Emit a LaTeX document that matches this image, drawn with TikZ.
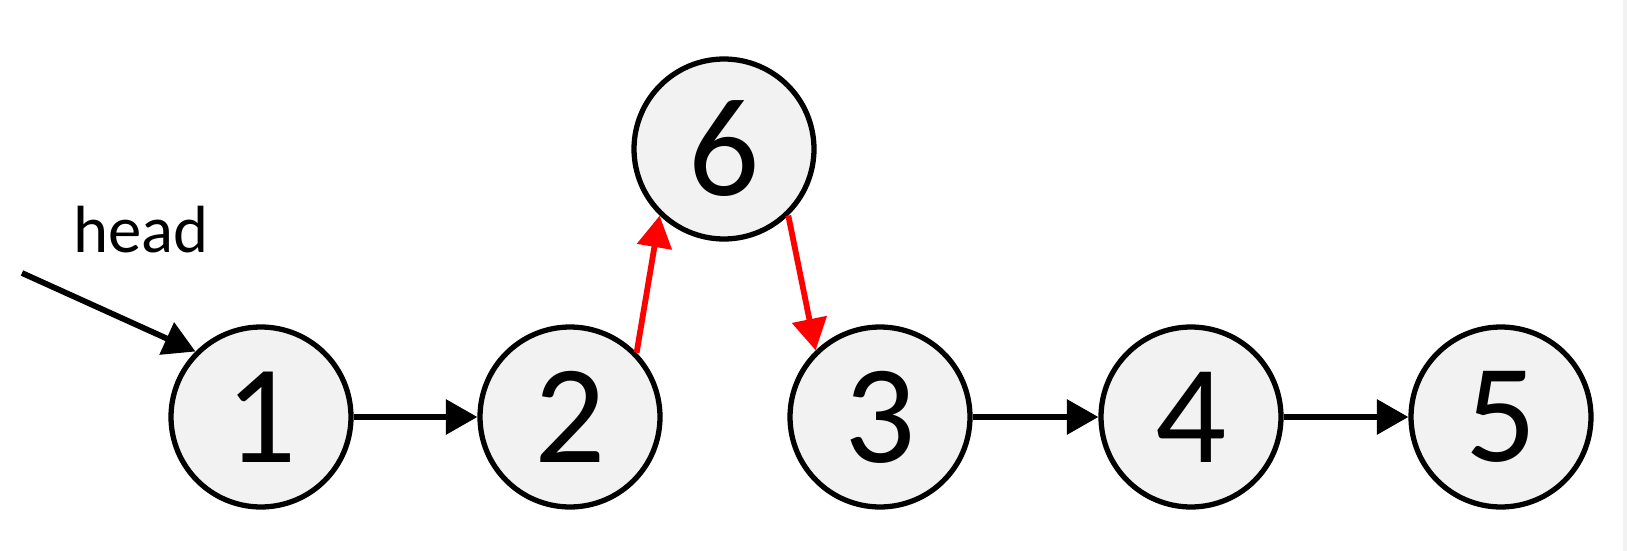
\documentclass[tikz,border=0pt]{standalone}
\usepackage{fontspec}
\setmainfont{Carlito}
\usetikzlibrary{arrows.meta}

\begin{document}
\begin{tikzpicture}[x=0.02cm, y=-0.02cm,
		listnode/.style={circle, draw=black, fill=black!5, line width=3pt, minimum size=3.6cm, inner sep=0pt, font=\fontsize{80}{96}\selectfont},
		nextlink/.style={line width=3.3pt, -{Triangle[length=18pt, width=19.5pt]}},
		newlink/.style={nextlink, color=red}]
		%%%%% START %%%%%
		
		\useasboundingbox (0, 0) rectangle (1627, 551);
		\fill[black!5] (1623, 0) rectangle (1627, 551);
		
		\node[listnode] (n1) at (261, 417) {1};
		\node[listnode] (n2) at (570, 417) {2};
		\node[listnode] (n3) at (880, 417) {3};
		\node[listnode] (n4) at (1191, 417) {4};
		\node[listnode] (n5) at (1501, 417) {5};
		\node[listnode] (n6) at (724, 149) {6};
		
		\node[anchor=base, font=\fontsize{38}{46}\selectfont] (headlabel) at (141, 252) {head};
		\coordinate (headstart) at (22, 273);
		
		\draw[nextlink] (headstart) -- (n1.135);
		\draw[nextlink] (n1) -- (n2);
		\draw[nextlink] (n3) -- (n4);
		\draw[nextlink] (n4) -- (n5);
		
		\draw[newlink] (n2.44) -- (n6.226);
		\draw[newlink] (n6.314) -- (n3.134);
		
		%%%%% END %%%%%
\end{tikzpicture}
\end{document}
